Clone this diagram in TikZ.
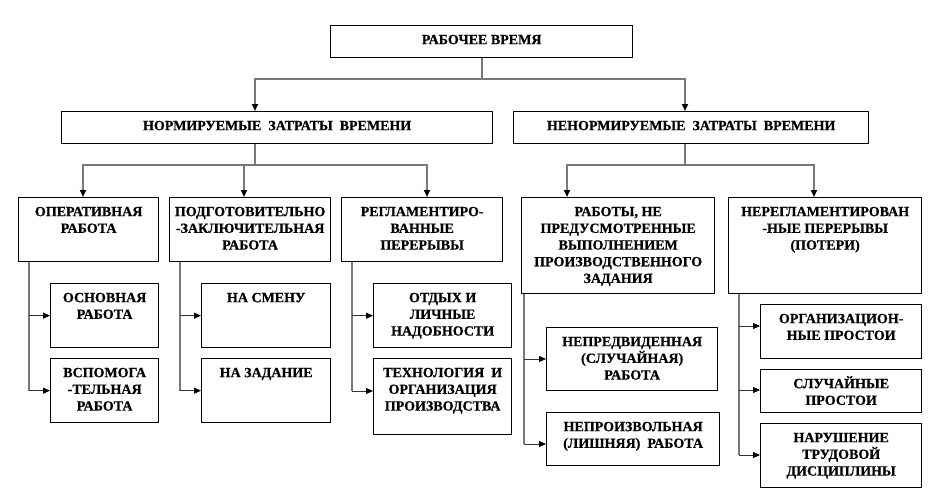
\documentclass[tikz,border=0pt]{standalone}
\usepackage{fontspec}
\setmainfont{Liberation Serif}
\newfontfamily\tnrb{Liberation Serif Bold}[FakeBold=0.6]
\usetikzlibrary{arrows.meta,calc}
\definecolor{lineg}{RGB}{120,120,120}
\tikzset{
  box/.style={draw=black, line width=1.3pt, inner sep=0pt, anchor=north west,
    font=\tnrb\fontsize{14}{16.7}\selectfont},
  conn/.style={draw=lineg, line width=1.8pt},
  stub/.style={draw=black!80, line width=1pt},
  arr/.style={-{Triangle[length=7pt,width=6pt,color=black]}}
}
\newcommand\mybox[6]{\node[box] (#1) at (#2,#3)
  {\parbox[t][#5pt][t]{#4pt}{\centering\rule{0pt}{18.5pt}#6}};}
\begin{document}
\begin{tikzpicture}[x=1pt,y=-1pt]
\useasboundingbox[fill=white] (0,0) rectangle (945,501);
% boxes
\mybox{top}{330}{25}{302}{32}{РАБОЧЕЕ ВРЕМЯ}
\mybox{N}{61}{111}{431}{32}{НОРМИРУЕМЫЕ\ \ ЗАТРАТЫ\ \ ВРЕМЕНИ}
\mybox{U}{513}{111}{355}{32}{НЕНОРМИРУЕМЫЕ\ \ ЗАТРАТЫ\ \ ВРЕМЕНИ}
\mybox{A}{18}{197}{140}{64}{ОПЕРАТИВНАЯ\\РАБОТА}
\mybox{B}{169}{197}{161}{64}{ПОДГОТОВИТЕЛЬНО\\-ЗАКЛЮЧИТЕЛЬНАЯ\\РАБОТА}
\mybox{C}{341}{197}{161}{64}{РЕГЛАМЕНТИРО-\\ВАННЫЕ\\ПЕРЕРЫВЫ}
\mybox{D}{521}{197}{193}{96}{РАБОТЫ, НЕ\\ПРЕДУСМОТРЕННЫЕ\\ВЫПОЛНЕНИЕМ\\ПРОИЗВОДСТВЕННОГО\\ЗАДАНИЯ}
\mybox{E}{728}{197}{193}{96}{НЕРЕГЛАМЕНТИРОВАН\\-НЫЕ ПЕРЕРЫВЫ\\(ПОТЕРИ)}
\mybox{A1}{50}{283}{108}{64}{ОСНОВНАЯ\\РАБОТА}
\mybox{A2}{50}{358}{108}{64}{ВСПОМОГА\\-ТЕЛЬНАЯ\\РАБОТА}
\mybox{B1}{201}{283}{129}{64}{НА СМЕНУ}
\mybox{B2}{201}{358}{129}{64}{НА ЗАДАНИЕ}
\mybox{C1}{373}{283}{138}{64}{ОТДЫХ И\\ЛИЧНЫЕ\\НАДОБНОСТИ}
\mybox{C2}{373}{358}{138}{76}{ТЕХНОЛОГИЯ\ \ И\\ОРГАНИЗАЦИЯ\\ПРОИЗВОДСТВА}
\mybox{D1}{546}{327}{171}{63}{НЕПРЕДВИДЕННАЯ\\(СЛУЧАЙНАЯ)\\РАБОТА}
\mybox{D2}{546}{412}{173}{53}{НЕПРОИЗВОЛЬНАЯ\\(ЛИШНЯЯ)\ \ РАБОТА}
\mybox{E1}{760}{304}{161}{54}{ОРГАНИЗАЦИОН-\\НЫЕ ПРОСТОИ}
\mybox{E2}{760}{369}{161}{43}{СЛУЧАЙНЫЕ\\ПРОСТОИ}
\mybox{E3}{760}{423}{161}{64}{НАРУШЕНИЕ\\ТРУДОВОЙ\\ДИСЦИПЛИНЫ}
% helper coordinates
\coordinate (h1) at (0,79);
\coordinate (h2) at (0,165);
\coordinate (xN) at (255,0);
\coordinate (xU) at (685,0);
\coordinate (xA) at (83,0);
\coordinate (xB) at (244,0);
\coordinate (xC) at (427,0);
\coordinate (xD) at (567,0);
\coordinate (xE) at (814,0);
\coordinate (vA) at (29,0);
\coordinate (vB) at (180,0);
\coordinate (vC) at (352,0);
\coordinate (vD) at (524,0);
\coordinate (vE) at (739,0);
\coordinate (yC2) at (0,391);
\coordinate (yD1) at (0,359);
\coordinate (yD2) at (0,444);
\coordinate (yE1) at (0,326);
\coordinate (yE2) at (0,390);
\coordinate (yE3) at (0,455);
% top level
\draw[conn] (top.south) -- (top.south |- h1);
\draw[conn,arr] (top.south |- h1) -- (xN |- h1) -- (xN |- N.north);
\draw[conn,arr] (top.south |- h1) -- (xU |- h1) -- (xU |- U.north);
% second level
\draw[conn] (xN |- N.south) -- (xN |- h2);
\draw[conn,arr] (xN |- h2) -- (xA |- h2) -- (xA |- A.north);
\draw[conn,arr] (xB |- h2) -- (xB |- B.north);
\draw[conn,arr] (xN |- h2) -- (xC |- h2) -- (xC |- C.north);
\draw[conn] (xU |- U.south) -- (xU |- h2);
\draw[conn,arr] (xU |- h2) -- (xD |- h2) -- (xD |- D.north);
\draw[conn,arr] (xU |- h2) -- (xE |- h2) -- (xE |- E.north);
% third level
\draw[conn] (vA |- A.south) -- (vA |- A2.west);
\draw[stub,arr] (vA |- A1.west) -- (A1.west);
\draw[stub,arr] (vA |- A2.west) -- (A2.west);
\draw[conn] (vB |- B.south) -- (vB |- B2.west);
\draw[stub,arr] (vB |- B1.west) -- (B1.west);
\draw[stub,arr] (vB |- B2.west) -- (B2.west);
\draw[conn] (vC |- C.south) -- (vC |- yC2);
\draw[stub,arr] (vC |- C1.west) -- (C1.west);
\draw[stub,arr] (vC |- yC2) -- (C2.west |- yC2);
\draw[conn] (vD |- D.south) -- (vD |- yD2);
\draw[stub,arr] (vD |- yD1) -- (D1.west |- yD1);
\draw[stub,arr] (vD |- yD2) -- (D2.west |- yD2);
\draw[conn] (vE |- E.south) -- (vE |- yE3);
\draw[stub,arr] (vE |- yE1) -- (E1.west |- yE1);
\draw[stub,arr] (vE |- yE2) -- (E2.west |- yE2);
\draw[stub,arr] (vE |- yE3) -- (E3.west |- yE3);
\end{tikzpicture}
\end{document}
